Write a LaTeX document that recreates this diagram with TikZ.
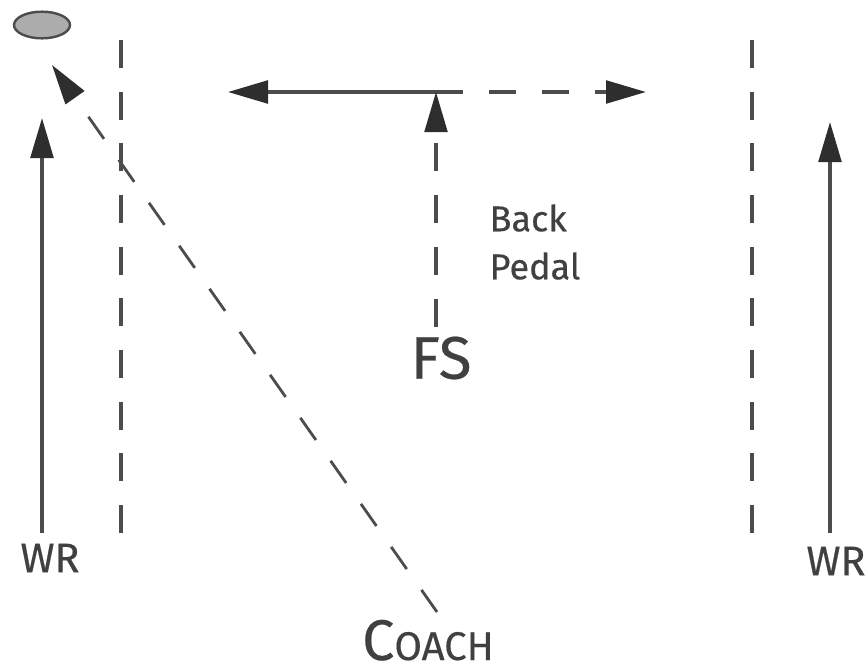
\documentclass[tikz,border=0pt]{standalone}
\usepackage{fontspec}
\setmainfont{Fira Sans}[FakeBold=0.4]
\usetikzlibrary{arrows.meta,shapes.geometric}
\definecolor{ink}{gray}{0.3}
\definecolor{textink}{gray}{0.25}
\definecolor{tipink}{gray}{0.18}
\tikzset{
  line/.style={draw=ink,line width=2.6pt},
  thin line/.style={draw=ink,line width=2.4pt},
  dashy/.style={thin line,dash pattern=on 21pt off 17.75pt},
  head/.style={-{Triangle[length=30pt,width=17pt,color=tipink]}},
  lbl/.style={inner sep=0pt,text=textink,font=\fontsize{31}{31}\selectfont},
}
\begin{document}
\begin{tikzpicture}[x=0.75pt,y=-0.75pt]
\useasboundingbox (0,0) rectangle (865,668);
% ball
\node[draw=ink,line width=1.8pt,fill=gray!65,ellipse,minimum width=42pt,minimum height=20pt,inner sep=0pt] (ball) at (42,25) {};
% labels
\node[lbl] (wrl) at (50,558) {WR};
\node[lbl] (wrr) at (836,561) {WR};
\node[lbl,font=\fontsize{45}{45}\selectfont] (fs) at (441,358) {FS};
\node[lbl,font=\fontsize{27}{36}\selectfont,align=left] (back) at (535,242) {Back\\Pedal};
\node[lbl,anchor=base] (coach) at (428,660) {{\fontsize{43}{43}\selectfont C}{\fontsize{30}{30}\selectfont OACH}};
% coordinates
\coordinate (wrltop) at (42,118);
\coordinate (wrlbot) at (42,533);
\coordinate (wrrtop) at (830,122);
\coordinate (wrrbot) at (830,533);
\coordinate (sl1) at (121,40);
\coordinate (sl2) at (121,534);
\coordinate (sr1) at (752,40);
\coordinate (sr2) at (752,536);
\coordinate (fsbot) at (436,327);
\coordinate (turn) at (436,92);
\coordinate (left) at (228,92);
\coordinate (mid) at (463,92);
\coordinate (dstart) at (489,92);
\coordinate (right) at (646,92);
\coordinate (cbot) at (437,612);
\coordinate (ctop) at (52,65);
% routes
\draw[line,head] (wrlbot) -- (wrltop);
\draw[line,head] (wrrbot) -- (wrrtop);
\draw[dashy] (sl1) -- (sl2);
\draw[dashy] (sr1) -- (sr2);
\draw[line,head] (mid) -- (left);
\draw[line,head,dash pattern=on 20.5pt off 19.25pt] (dstart) -- (right);
\draw[thin line,head,dash pattern=on 21pt off 18pt] (fsbot) -- (turn);
\draw[draw=ink,line width=2.1pt,head,dash pattern=on 20.25pt off 19.2pt] (cbot) -- (ctop);
\end{tikzpicture}
\end{document}
